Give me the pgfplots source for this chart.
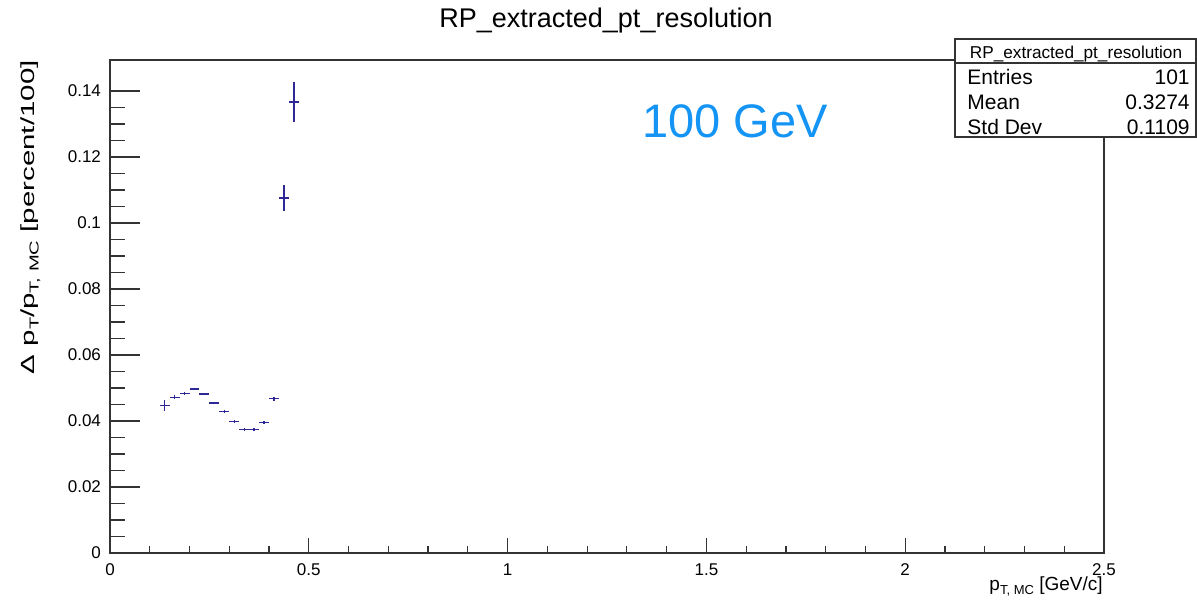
\documentclass[border=0pt]{standalone}
\usepackage{fontspec}
\setmainfont{Liberation Sans}
\usepackage{pgfplots}
\pgfplotsset{compat=1.18}
\usepackage{pgfplotstable}

\definecolor{dat}{RGB}{45,40,150}
\definecolor{gevblue}{RGB}{20,148,245}

\newcommand{\sub}[1]{\raisebox{-0.45ex}{\fontsize{6.5}{7}\selectfont #1}}

\pgfplotstableread{
x       y       ex      ey
0.1375  0.0447  0.0125  0.0017
0.1625  0.0472  0.0125  0.0006
0.1875  0.0484  0.0125  0.0005
0.2125  0.0497  0.0125  0.0004
0.2375  0.0482  0.0125  0.0004
0.2625  0.0455  0.0125  0.0004
0.2875  0.0428  0.0125  0.0004
0.3125  0.0398  0.0125  0.0004
0.3375  0.0375  0.0125  0.0004
0.3625  0.0375  0.0125  0.0004
0.3875  0.0396  0.0125  0.0004
0.4125  0.0468  0.0125  0.0006
0.4375  0.1076  0.0125  0.0040
0.4625  0.1367  0.0125  0.0060
}\resdata

\begin{document}
\begin{tikzpicture}
\useasboundingbox (0,0) rectangle (598.5pt,303.5pt);
\begin{axis}[
    at={(55pt,27pt)}, anchor=south west,
    scale only axis,
    width=497pt, height=246.5pt,
    xmin=0, xmax=2.5, ymin=0, ymax=0.1494,
    xtick={0,0.5,1,1.5,2,2.5},
    ytick={0,0.02,0.04,0.06,0.08,0.1,0.12,0.14},
    minor x tick num=4,
    minor y tick num=3,
    tick align=inside,
    xtick pos=left, ytick pos=left,
    axis line style={line width=0.6pt, black!80},
    tick style={line width=0.6pt, black!80},
    xtick style={/pgfplots/major tick length=7.5pt, /pgfplots/minor tick length=3.75pt},
    ytick style={/pgfplots/major tick length=15pt, /pgfplots/minor tick length=7.5pt},
    /pgf/number format/assume math mode=true,
    /pgf/number format/fixed,
    /pgf/number format/precision=2,
    scaled ticks=false,
    tick label style={font=\fontsize{8.5}{10}\selectfont},
    xticklabel style={yshift=-2pt},
    yticklabel style={xshift=-1pt},
]
\addplot[draw=none, no markers,
    error bars/.cd, x dir=both, x explicit, y dir=both, y explicit,
    error mark=none, error bar style={draw=dat, line width=0.65pt, solid}]
    table[x=x, y=y, x error=ex, y error=ey] {\resdata};
\end{axis}

% title
\node[anchor=base, font=\fontsize{13.5}{15}\selectfont] at (303pt,290pt) {RP\_extracted\_pt\_resolution};

% axis labels
\node[anchor=base east, rotate=90, inner sep=0pt, font=\fontsize{9.5}{11}\selectfont]
    at (17pt,273.5pt) {\scalebox{1.55}[1]{Δ p\sub{T}/p\sub{T, MC} [percent/100]}};
\node[anchor=base east, inner sep=0pt, font=\fontsize{9.5}{11}\selectfont]
    at (551.5pt,8.5pt) {p\sub{T, MC} [GeV/c]};

% energy label
\node[anchor=base west, inner sep=0pt, text=gevblue, font=\fontsize{23.5}{27}\selectfont]
    at (321pt,235pt) {100 GeV};

% stats box
\draw[line width=0.6pt, black!80, fill=white] (477.5pt,235pt) rectangle (598pt,284pt);
\draw[line width=0.6pt, black!80] (477.5pt,272pt) -- (598pt,272pt);
\node[anchor=base, inner sep=0pt, font=\fontsize{8.6}{10}\selectfont] at (538pt,274.5pt) {RP\_extracted\_pt\_resolution};
\begin{scope}[every node/.style={inner sep=0pt, font=\fontsize{10.5}{12}\selectfont}]
\node[anchor=base west] at (483.5pt,261.5pt) {Entries};
\node[anchor=base east] at (595pt,261.5pt) {101};
\node[anchor=base west] at (483.5pt,249pt) {Mean};
\node[anchor=base east] at (595pt,249pt) {0.3274};
\node[anchor=base west] at (483.5pt,236.5pt) {Std Dev};
\node[anchor=base east] at (595pt,236.5pt) {0.1109};
\end{scope}
\end{tikzpicture}
\end{document}
